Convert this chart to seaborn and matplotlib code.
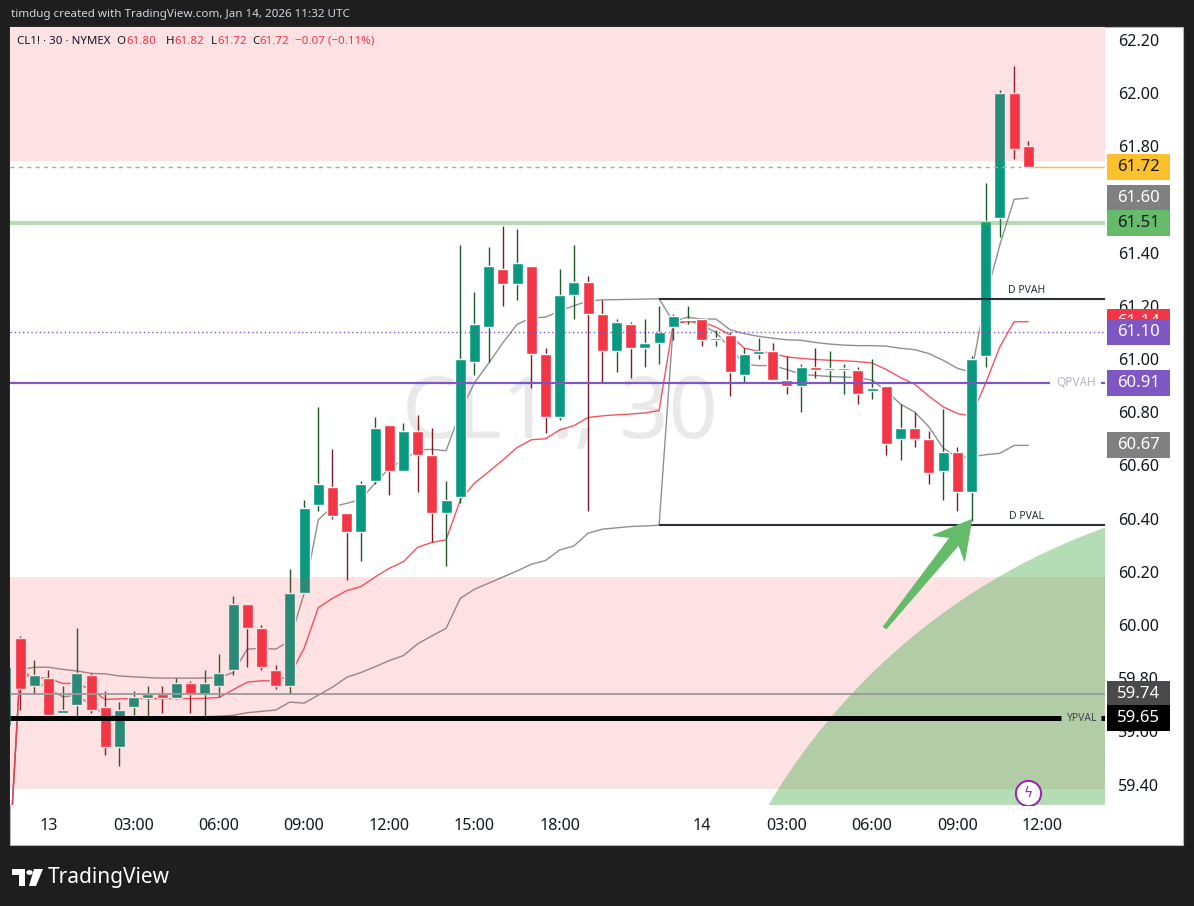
import numpy as np
import pandas as pd
import matplotlib
matplotlib.use("Agg")
import matplotlib.pyplot as plt
import matplotlib.patches as mpatches
import matplotlib.transforms as mtransforms
import seaborn as sns

# 30 minute bars, index 0 = Jan 13 00:00 UTC (the 22:00-23:00 break is skipped)
bar_idx = list(range(-3, 70))

opens = [59.62, 59.95, 59.77, 59.80, 59.67, 59.70, 59.81, 59.69, 59.54, 59.69,
         59.725, 59.74, 59.725, 59.78, 59.74, 59.77, 59.83, 60.08, 59.99, 59.83,
         59.77, 60.12, 60.45, 60.52, 60.42, 60.35, 60.54, 60.75, 60.58, 60.73,
         60.64, 60.42, 60.48, 60.99, 61.12, 61.34, 61.28, 61.35, 61.02, 60.78,
         61.24, 61.29, 61.17, 61.03, 61.13, 61.04, 61.06, 61.12, 61.145, 61.15,
         61.07, 61.09, 60.94, 61.02, 61.03, 60.92, 60.90, 60.97, 60.96, 60.96,
         60.96, 60.88, 60.90, 60.70, 60.74, 60.70, 60.58, 60.65, 60.50, 61.01,
         61.53, 62.00, 61.80]
highs = [59.86, 59.96, 59.87, 59.83, 59.77, 59.99, 59.82, 59.75, 59.71, 59.75,
         59.77, 59.77, 59.80, 59.79, 59.83, 59.89, 60.11, 60.08, 60.00, 59.85,
         60.21, 60.47, 60.82, 60.66, 60.42, 60.54, 60.78, 60.75, 60.76, 60.79,
         60.74, 60.54, 61.43, 61.25, 61.42, 61.50, 61.49, 61.35, 61.04, 61.34,
         61.43, 61.31, 61.22, 61.15, 61.14, 61.15, 61.20, 61.17, 61.20, 61.15,
         61.11, 61.10, 61.04, 61.08, 61.06, 61.01, 60.98, 61.04, 61.03, 60.98,
         60.97, 61.00, 60.90, 60.83, 60.80, 60.73, 60.81, 60.67, 61.01, 61.66,
         62.01, 62.10, 61.82]
lows = [59.60, 59.68, 59.74, 59.65, 59.67, 59.65, 59.67, 59.51, 59.47, 59.66,
        59.65, 59.67, 59.72, 59.67, 59.65, 59.73, 59.81, 59.84, 59.83, 59.76,
        59.74, 60.12, 60.43, 60.40, 60.17, 60.24, 60.53, 60.49, 60.58, 60.50,
        60.31, 60.22, 60.46, 60.94, 60.99, 61.20, 61.22, 60.89, 60.72, 60.77,
        61.15, 60.43, 60.91, 60.95, 60.93, 60.97, 60.98, 61.07, 61.13, 61.05,
        61.05, 60.86, 60.91, 61.00, 60.92, 60.87, 60.80, 60.93, 60.91, 60.87,
        60.83, 60.85, 60.64, 60.62, 60.67, 60.53, 60.47, 60.43, 60.39, 60.97,
        61.46, 61.75, 61.72]
closes = [59.84, 59.76, 59.81, 59.66, 59.68, 59.82, 59.68, 59.54, 59.68, 59.73,
          59.74, 59.725, 59.78, 59.74, 59.78, 59.82, 60.08, 59.99, 59.84, 59.77,
          60.12, 60.44, 60.53, 60.41, 60.35, 60.53, 60.74, 60.58, 60.73, 60.64,
          60.42, 60.47, 61.00, 61.13, 61.35, 61.28, 61.36, 61.02, 60.78, 61.24,
          61.29, 61.17, 61.03, 61.14, 61.04, 61.06, 61.10, 61.16, 61.15, 61.07,
          61.08, 60.95, 61.02, 61.03, 60.92, 60.90, 60.97, 60.96, 60.96, 60.96,
          60.87, 60.89, 60.68, 60.74, 60.70, 60.57, 60.65, 60.50, 61.00, 61.52,
          62.00, 61.79, 61.72]

# session VWAP and its bands (reset at the 23:00 session open)
vwap = [58.90, 59.83, 59.80, 59.80, 59.78, 59.78, 59.756, 59.72, 59.722, 59.723,
        59.723, 59.723, 59.723, 59.723, 59.724, 59.727, 59.756, 59.785, 59.79, 59.79,
        59.81, 59.912, 60.065, 60.10, 60.129, 60.144, 60.18, 60.213, 60.238, 60.292,
        60.31, 60.32, 60.47, 60.533, 60.576, 60.62, 60.667, 60.696, 60.70, 60.733,
        60.749, 60.78, 60.786, 60.79, 60.793, 60.797, 60.806, 61.134, 61.14, 61.14,
        61.12, 61.09, 61.04, 61.03, 61.02, 61.008, 61.002, 60.998, 60.995, 60.993,
        60.99, 60.985, 60.96, 60.93, 60.905, 60.86, 60.82, 60.795, 60.785, 60.91,
        61.046, 61.14, 61.14]
upper_band = [58.90, 59.831, 59.841, 59.841, 59.833, 59.827, 59.818, 59.816, 59.808, 59.805,
              59.802, 59.80, 59.80, 59.80, 59.80, 59.802, 59.821, 59.909, 59.912, 59.909,
              59.94, 60.119, 60.395, 60.445, 60.457, 60.472, 60.533, 60.589, 60.62, 60.658,
              60.66, 60.655, 60.80, 60.911, 60.984, 61.061, 61.13, 61.155, 61.157, 61.18,
              61.20, 61.218, 61.222, 61.223, 61.224, 61.225, 61.226, 61.14, 61.157, 61.15,
              61.15, 61.11, 61.095, 61.085, 61.078, 61.072, 61.07, 61.062, 61.056, 61.052,
              61.05, 61.05, 61.048, 61.04, 61.035, 61.02, 60.995, 60.965, 60.95, 61.23,
              61.43, 61.60, 61.605]
lower_band = [58.90, 59.83, 59.79, 59.76, 59.73, 59.735, 59.70, 59.66, 59.655, 59.655,
              59.655, 59.655, 59.655, 59.655, 59.655, 59.657, 59.66, 59.67, 59.675, 59.68,
              59.71, 59.706, 59.736, 59.766, 59.803, 59.821, 59.843, 59.866, 59.885, 59.929,
              59.959, 59.987, 60.10, 60.134, 60.157, 60.18, 60.203, 60.228, 60.242, 60.282,
              60.297, 60.345, 60.36, 60.365, 60.37, 60.372, 60.375, 61.13, 61.145, 61.128,
              61.10, 61.04, 60.98, 60.975, 60.975, 60.96, 60.942, 60.938, 60.934, 60.932,
              60.93, 60.92, 60.88, 60.83, 60.80, 60.745, 60.665, 60.63, 60.632, 60.64,
              60.645, 60.675, 60.675]

# time axis
tick_idx = [0, 6, 12, 18, 24, 30, 36, 46, 52, 58, 64, 70]
tick_labels = ["13", "03:00", "06:00", "09:00", "12:00", "15:00", "18:00",
               "14", "03:00", "06:00", "09:00", "12:00"]
price_ticks = [59.40, 59.60, 59.80, 60.00, 60.20, 60.40, 60.60, 60.80,
               61.00, 61.20, 61.40, 61.80, 62.00, 62.20]

# drawn levels / zones
green_level = 61.51
vwap_dotted = 61.10
qpvah = 60.91
d_pvah = 61.225
d_pval = 60.376
ypval = 59.65
gray_level = 59.74
top_zone = (61.744, 62.40)
low_zone = (59.383, 60.181)
day_start = 43
arc_center = (89.5, 58.10)
arc_size = (90.1, 4.81)
arrow_tail = (58.9, 59.99)
arrow_tip = (65.0, 60.395)

GREEN, RED = "#089981", "#f23645"
PURPLE = "#7e57c2"
DARK = "#131722"

sns.set_style("white")
plt.rcParams["font.family"] = ["Noto Sans", "DejaVu Sans"]

W, H = 1194, 906
fig = plt.figure(figsize=(W / 100, H / 100), dpi=100, facecolor="#1e1e1e")
fig.patches.append(mpatches.Rectangle((10 / W, 61 / H), 1173 / W, 818 / H,
                                      transform=fig.transFigure, facecolor="white",
                                      edgecolor="#b2b5be", lw=0.8, zorder=-10))
ax = fig.add_axes([10 / W, 101 / H, 1095 / W, 778 / H])
ax.set_zorder(1)
ax.set_facecolor("white")
ax.set_xlim(-2.71, 74.4)
ax.set_ylim(59.323, 62.248)
for s in ax.spines.values():
    s.set_visible(False)

# watermark
ax.text(0.502, 0.50, "CL1!, 30", transform=ax.transAxes, ha="center", va="center",
        fontsize=62, color="#e9e9ea", zorder=0)

# vwap bands
df = pd.DataFrame({"idx": bar_idx, "vwap": vwap, "up": upper_band, "lo": lower_band})
sns.lineplot(data=df, x="idx", y="up", ax=ax, color="#8f8f8f", lw=1.0, zorder=2)
sns.lineplot(data=df, x="idx", y="lo", ax=ax, color="#8f8f8f", lw=1.0, zorder=2)
sns.lineplot(data=df, x="idx", y="vwap", ax=ax, color="#f23645", alpha=0.85, lw=1.0, zorder=2)

# candles
o = np.array(opens); c = np.array(closes)
up = c >= o
body_col = np.where(up, GREEN, RED)
wick_col = np.where(up, "#1e5a28", "#801922")
ax.vlines(bar_idx, lows, highs, colors=wick_col, lw=1.0, zorder=3)
ax.bar(bar_idx, np.maximum(np.abs(c - o), 0.006), bottom=np.minimum(o, c),
       width=0.77, color=body_col, zorder=3.1)

# zones
ax.axhspan(*top_zone, color=RED, alpha=0.15, lw=0, zorder=4)
ax.axhspan(*low_zone, color=RED, alpha=0.15, lw=0, zorder=4)
ax.add_patch(mpatches.Ellipse(arc_center, arc_size[0], arc_size[1],
                              facecolor="#4caf50", alpha=0.42, lw=0, zorder=5))

x0, x1 = ax.get_xlim()
ax.axhline(green_level, color="#4caf50", alpha=0.42, lw=3, zorder=6)
ax.hlines(closes[-1], x0, 68.5, colors="#a8a8a8", lw=1, linestyles=(0, (3, 3)), zorder=6)
ax.hlines(closes[-1], 69.4, x1, colors="#fbc02d", lw=1, zorder=6)
ax.axhline(vwap_dotted, color=PURPLE, lw=1, linestyle=(0, (1, 2)), zorder=6)
ax.hlines(qpvah, x0, 70.5, colors=PURPLE, lw=1.6, zorder=6)
ax.hlines(qpvah, 74.15, x1, colors=PURPLE, lw=1.6, zorder=6)
ax.text(72.4, qpvah, "QPVAH", ha="center", va="center", fontsize=8.5, color="#b2b5be", zorder=6)
ax.hlines([d_pvah, d_pval], day_start, x1, colors="#2a2e39", lw=1.5, zorder=6)
ax.text(68.9, d_pvah + 0.012, "D PVAH", ha="center", va="bottom", fontsize=7.5, color="#2a2e39", zorder=6)
ax.text(68.9, d_pval + 0.012, "D PVAL", ha="center", va="bottom", fontsize=7.5, color="#2a2e39", zorder=6)
ax.axhline(gray_level, color="#9a9a9a", lw=1.3, zorder=6)
ax.hlines(ypval, x0, 71.3, colors="black", lw=3.6, zorder=6)
ax.hlines(ypval, 74.1, x1, colors="black", lw=3.6, zorder=6)
ax.text(72.8, ypval, "YPVAL", ha="center", va="center", fontsize=7.5, color="#434651", zorder=6)

# arrow drawing (built in pixel space)
tail = ax.transData.transform(arrow_tail)
tip = ax.transData.transform(arrow_tip)
u = (tip - tail) / np.linalg.norm(tip - tail)
n = np.array([-u[1], u[0]])
pts = [tip, tip - u * 36 + n * 20, tip - u * 27 + n * 5.5, tail + n * 1.6,
       tail - n * 1.6, tip - u * 27 - n * 5.5, tip - u * 36 - n * 20]
pts = ax.transData.inverted().transform(np.array(pts))
ax.add_patch(mpatches.Polygon(pts, closed=True, facecolor="#66bb6a", edgecolor="#66bb6a",
                              lw=1, joinstyle="round", zorder=7))

# lightning marker
ax.scatter([69.0], [59.368], s=330, facecolor="white", edgecolor="#9c27b0", lw=1.5, zorder=8)
ax.text(69.0, 59.368, "ϟ", ha="center", va="center", fontsize=10, color="#9c27b0",
        family=["DejaVu Sans"], zorder=9)

# axes ticks
ax.yaxis.tick_right()
ax.set_yticks(price_ticks)
ax.set_yticklabels([f"{p:.2f}" for p in price_ticks])
ax.tick_params(axis="y", length=0, pad=9.5, labelsize=11.6, labelcolor=DARK)
ax.set_xticks(tick_idx)
ax.set_xticklabels(tick_labels)
ax.tick_params(axis="x", length=0, pad=9, labelsize=11.6, labelcolor=DARK)
ax.set_xlabel(""); ax.set_ylabel("")
ax.grid(False)

# price scale tags
trans = mtransforms.blended_transform_factory(ax.transAxes, ax.transData)
tag_h = 26 / 266
tags = [(closes[-1], "#fbc02d", DARK),
        (upper_band[-1], "#808080", "white"),
        (green_level, "#66bb6a", DARK),
        (vwap[-1], RED, "white"),
        (vwap_dotted, PURPLE, "white"),
        (qpvah, PURPLE, "white"),
        (lower_band[-1], "#808080", "white"),
        (gray_level, "#4a4a4a", "white"),
        (ypval, "black", "white")]
for k, (p, face, tc) in enumerate(tags):
    ax.add_patch(mpatches.Rectangle((1.0018, p - tag_h / 2), 0.0575, tag_h, transform=trans,
                                    facecolor=face, lw=0, clip_on=False, zorder=20 + k))
    ax.text(1.0306, p, f"{p:.2f}", transform=trans, ha="center", va="center", fontsize=12,
            fontweight="bold", color=tc, clip_on=False, zorder=20.5 + k)

# header texts
fig.text(11 / W, 1 - 14 / H, "timdug created with TradingView.com, Jan 14, 2026 11:32 UTC",
         ha="left", va="center", fontsize=8.4, color="#d1d4dc")
chg = closes[-1] - closes[-2]
pct = chg / closes[-2] * 100
hy = 1 - 41 / H
renderer = fig.canvas.get_renderer()


def put(x_px, s, col):
    t = fig.text(x_px / W, hy, s, ha="left", va="center", fontsize=8.3, color=col)
    return t.get_window_extent(renderer).x1


put(17, "CL1! · 30 · NYMEX", DARK)
for x_px, letter, val in [(116.5, "O", opens[-1]), (165.5, "H", highs[-1]),
                          (210.5, "L", lows[-1]), (252, "C", closes[-1])]:
    xe = put(x_px, letter, DARK)
    put(xe + 0.5, f"{val:.2f}", RED)
put(295, f"{chg:+.2f} ({pct:+.2f}%)".replace("-", "−"), RED)

# TradingView logo
logo = [mpatches.Rectangle((12 / W, (906 - 875) / H), 13 / W, 6 / H),
        mpatches.Rectangle((19 / W, (906 - 886) / H), 6 / W, 17 / H),
        mpatches.Circle((29.5 / W, (906 - 872.5) / H), 3.2 / W),
        mpatches.Polygon([(34 / W, (906 - 869) / H), (43 / W, (906 - 869) / H),
                          (36 / W, (906 - 886) / H), (29 / W, (906 - 886) / H)])]
for p in logo:
    p.set_transform(fig.transFigure)
    p.set_facecolor("white")
    p.set_edgecolor("none")
    fig.patches.append(p)
fig.text(48 / W, 1 - 877 / H, "TradingView", ha="left", va="center", fontsize=15,
         fontweight="semibold", color="white")

fig.savefig("out.png", dpi=100, facecolor=fig.get_facecolor())
